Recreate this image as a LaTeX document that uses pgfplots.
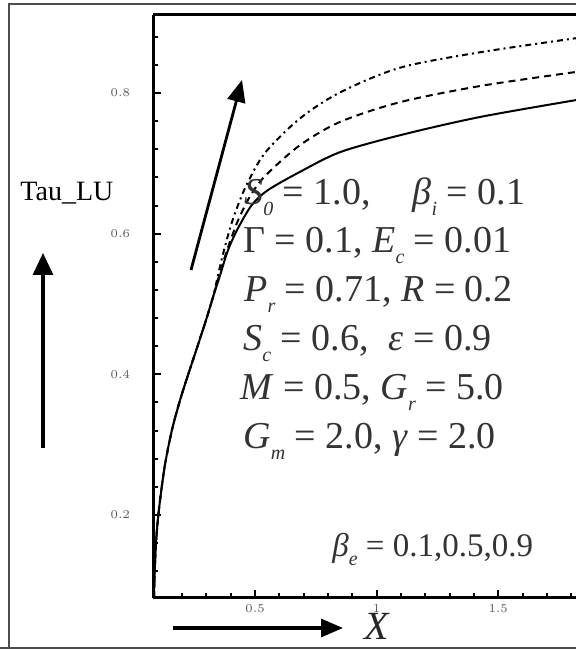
\documentclass[border=0pt]{standalone}
\usepackage{fontspec}
\setmainfont{Liberation Serif}
\usepackage{pgfplots}
\pgfplotsset{compat=1.18}
\usetikzlibrary{arrows.meta}

\newcommand{\sub}[1]{\raisebox{-0.28em}{\fontsize{10pt}{10pt}\selectfont\itshape #1}}

\begin{document}
\begin{tikzpicture}[x=0.5pt,y=0.5pt]
\path[use as bounding box] (0,0) rectangle (576,651);
\clip (0,0) rectangle (576,651);

% outer frame
\draw[black!70, line width=0.8pt] (9,3) -- (9,647) -- (580,647);
\draw[black!70, line width=0.8pt] (0,3) -- (580,3);

\begin{axis}[
  at={(76.5pt,26.5pt)}, anchor=south west,
  scale only axis, width=211.5pt, height=291.5pt,
  xmin=0.08, xmax=1.82, ymin=0.082, ymax=0.911,
  axis x line=box, axis y line=left,
  x axis line style={-}, y axis line style={-},
  axis line style={line width=1.5pt, black},
  tick align=inside, xtick pos=bottom, ytick pos=left,
  xtick={0.5,1,1.5},
  minor xtick={0.2,0.3,0.4,0.6,0.7,0.8,0.9,1.1,1.2,1.3,1.4,1.6,1.7,1.8},
  ytick={0.2,0.4,0.6,0.8},
  minor ytick={0.12,0.16,0.24,0.28,0.32,0.36,0.44,0.48,0.52,0.56,0.64,0.68,0.72,0.76,0.84,0.88},
  major tick length=4pt, minor tick length=2.5pt,
  every tick/.style={black, line width=1pt},
  xticklabel style={font=\fontsize{6}{6}\selectfont, text=black!65},
  yticklabel style={font=\fontsize{6}{6}\selectfont, text=black!65, xshift=-8pt},
  /pgf/number format/fixed,
  clip=true,
]
% beta_e = 0.1
\addplot[black, line width=1pt, smooth] coordinates {
  (0.084,0.082) (0.088,0.129) (0.096,0.178) (0.109,0.221) (0.129,0.271)
  (0.158,0.321) (0.191,0.363) (0.224,0.399) (0.265,0.442) (0.298,0.477)
  (0.327,0.510) (0.356,0.541) (0.389,0.577) (0.430,0.608) (0.487,0.641)
  (0.553,0.662) (0.685,0.688) (0.850,0.716) (1.096,0.740) (1.426,0.766)
  (1.821,0.790)};
% beta_e = 0.5
\addplot[black, line width=1pt, smooth, dash pattern=on 3.5pt off 2.5pt] coordinates {
  (0.084,0.082) (0.088,0.129) (0.096,0.178) (0.109,0.221) (0.129,0.271)
  (0.158,0.321) (0.191,0.363) (0.224,0.399) (0.265,0.442) (0.298,0.477)
  (0.327,0.510) (0.356,0.545) (0.389,0.581) (0.430,0.619) (0.479,0.653)
  (0.541,0.682) (0.685,0.726) (0.850,0.759) (1.096,0.787) (1.426,0.810)
  (1.821,0.830)};
% beta_e = 0.9
\addplot[black, line width=1pt, smooth, dash pattern=on 3pt off 2pt on 1pt off 2pt] coordinates {
  (0.084,0.082) (0.088,0.129) (0.096,0.178) (0.109,0.221) (0.129,0.271)
  (0.158,0.321) (0.191,0.363) (0.224,0.399) (0.265,0.442) (0.298,0.477)
  (0.327,0.510) (0.352,0.548) (0.380,0.587) (0.413,0.625) (0.463,0.668)
  (0.541,0.715) (0.685,0.764) (0.850,0.801) (1.096,0.836) (1.426,0.858)
  (1.821,0.878)};
\end{axis}

% arrows
\draw[black, line width=1.6pt, -{Triangle[length=11pt,width=10pt]}] (43,203) -- (43,398);
\draw[black, line width=1.4pt, -{Triangle[length=11pt,width=9pt]}] (191,381) -- (242,571);
\draw[black, line width=1.6pt, -{Triangle[length=11pt,width=9pt]}] (173,23) -- (343,23);

% labels
\node[anchor=base west, inner sep=0pt, font=\fontsize{14}{14}\selectfont] at (20,450) {Tau\_LU};
\node[anchor=base west, inner sep=0pt, font=\fontsize{20}{20}\selectfont\itshape, text=black!85] at (364,11) {X};

\begin{scope}[every node/.style={anchor=base west, inner sep=0pt, text=black!80,
    font=\fontsize{19}{19}\selectfont}]
\node at (244,446) {\textit{S}\sub{0} = 1.0,\hspace{1.1em}\textit{β}\sub{i} = 0.1};
\node at (243,398) {Γ = 0.1, \textit{E}\sub{c} = 0.01};
\node at (244,349) {\textit{P}\sub{r} = 0.71, \textit{R} = 0.2};
\node at (243,300) {\textit{S}\sub{c} = 0.6,\; \textit{ε} = 0.9};
\node at (240,251) {\textit{M} = 0.5, \textit{G}\sub{r} = 5.0};
\node at (243,202) {\textit{G}\sub{m} = 2.0, \textit{γ} = 2.0};
\end{scope}
\node[anchor=base west, inner sep=0pt, text=black!80, font=\fontsize{16.5}{16.5}\selectfont]
  at (332,94) {\textit{β}\raisebox{-0.25em}{\fontsize{10pt}{10pt}\selectfont\itshape e} = 0.1,0.5,0.9};
\end{tikzpicture}
\end{document}
